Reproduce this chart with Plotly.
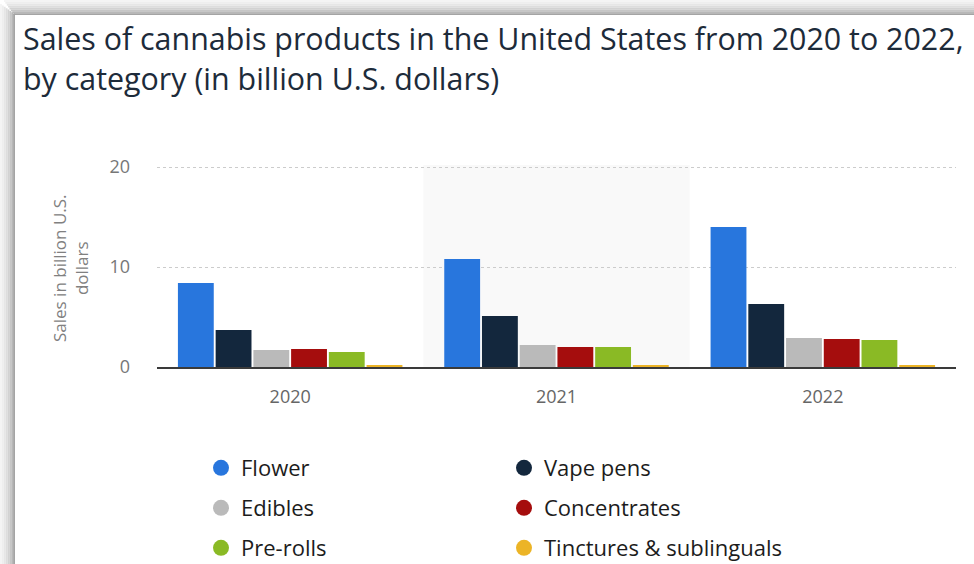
import plotly.graph_objects as go

years = ["2020", "2021", "2022"]
categories = ["Flower", "Vape pens", "Edibles", "Concentrates", "Pre-rolls", "Tinctures & sublinguals"]
flower = [8.4, 10.8, 14.0]
vape_pens = [3.7, 5.1, 6.3]
edibles = [1.7, 2.2, 2.9]
concentrates = [1.8, 2.0, 2.8]
pre_rolls = [1.5, 2.0, 2.7]
tinctures = [0.2, 0.2, 0.2]
series = [flower, vape_pens, edibles, concentrates, pre_rolls, tinctures]
colors = ["#2876dd", "#13273d", "#bababa", "#a50d0d", "#8aba25", "#ecb426"]
y_ticks = [0, 10, 20]
title_lines = ["Sales of cannabis products in the United States from 2020 to 2022,",
               "by category (in billion U.S. dollars)"]

W, H = 974, 564
L, R, T, B = 157, 18, 165, 197
Y_MAX = 20.2
pw = W - L - R
ph = H - T - B


def px_x(px):
    return (px - L) / pw


def px_y(py):
    return (H - B - py) / ph


fig = go.Figure()
for name, vals, col in zip(categories, series, colors):
    fig.add_trace(go.Bar(x=years, y=vals, name=name, marker_color=col,
                         marker_line_width=0, showlegend=False,
                         hovertemplate="%{x}: %{y}<extra>" + name + "</extra>"))

# legend entries (circles), 2 per row in 3 legends
legend_ids = ["legend", "legend", "legend2", "legend2", "legend3", "legend3"]
for name, col, lid in zip(categories, colors, legend_ids):
    fig.add_trace(go.Scatter(x=[None], y=[None], mode="markers", name=name,
                             marker=dict(symbol="circle", size=16, color=col),
                             legend=lid, showlegend=True))

legend_font = dict(family="Open Sans", size=22, color="#1c1c1c")
row_y = [468, 508, 548]
legend_common = dict(orientation="h", xanchor="left", yanchor="middle",
                     font=legend_font, entrywidth=258, bgcolor="rgba(0,0,0,0)",
                     borderwidth=0, itemclick=False, itemdoubleclick=False)
fig.update_layout(
    legend=dict(x=px_x(201), y=px_y(row_y[0]), **legend_common),
    legend2=dict(x=px_x(201), y=px_y(row_y[1]), **legend_common),
    legend3=dict(x=px_x(201), y=px_y(row_y[2]), **legend_common),
)

shapes = []
# highlighted band for 2021
shapes.append(dict(type="rect", xref="x", yref="paper", x0=0.5, x1=1.5, y0=0, y1=1,
                   fillcolor="#f9f9f9", line_width=0, layer="below"))
# card shadow: left and top strips
left_grays = ["#f4f4f4", "#eeeeee", "#e6e6e6", "#dddddd", "#d2d2d2", "#c6c6c6", "#b8b8b8", "#a4a4a4"]
n = len(left_grays)
for i, g in enumerate(left_grays):
    x0 = i * 15 / n
    x1 = (i + 1) * 15 / n
    shapes.append(dict(type="rect", xref="paper", yref="paper",
                       x0=px_x(x0), x1=px_x(x1), y0=px_y(H), y1=px_y(4 + i * 11 / n),
                       fillcolor=g, line_width=0, layer="above"))
    shapes.append(dict(type="rect", xref="paper", yref="paper",
                       x0=px_x(4 + i * 11 / n), x1=px_x(W),
                       y0=px_y((i + 1) * 15 / n), y1=px_y(i * 15 / n),
                       fillcolor=g, line_width=0, layer="above"))
fig.update_layout(shapes=shapes)

for line, cy in zip(title_lines, [38, 78]):
    fig.add_annotation(text=line, xref="paper", yref="paper", x=px_x(21), y=px_y(cy),
                       showarrow=False, xanchor="left", yanchor="middle",
                       font=dict(family="Open Sans", size=30.4, color="#1d2b3a"))

fig.add_annotation(text="Sales in billion U.S.<br>dollars", xref="paper", yref="paper",
                   x=px_x(70), y=px_y(268), showarrow=False, textangle=-90,
                   font=dict(family="Open Sans", size=17, color="#808080"),
                   xanchor="center", yanchor="middle", align="center")

fig.update_layout(
    width=W, height=H,
    margin=dict(l=L, r=R, t=T, b=B, pad=0, autoexpand=False),
    paper_bgcolor="white", plot_bgcolor="rgba(0,0,0,0)",
    barmode="group", bargap=0.15, bargroupgap=0.05,
    xaxis=dict(showline=True, linecolor="#3a3a3a", linewidth=2, showgrid=False,
               ticks="", tickfont=dict(family="Open Sans", size=18, color="#666666"),
               ticklabelstandoff=12, fixedrange=True),
    yaxis=dict(range=[0, Y_MAX], tickvals=y_ticks, showgrid=True, gridcolor="#cccccc",
               griddash="dot", gridwidth=1, zeroline=False, showline=False,
               tickfont=dict(family="Open Sans", size=18, color="#777777"),
               ticklabelstandoff=26, fixedrange=True),
    hovermode="closest",
)

fig.write_html("out.html")
